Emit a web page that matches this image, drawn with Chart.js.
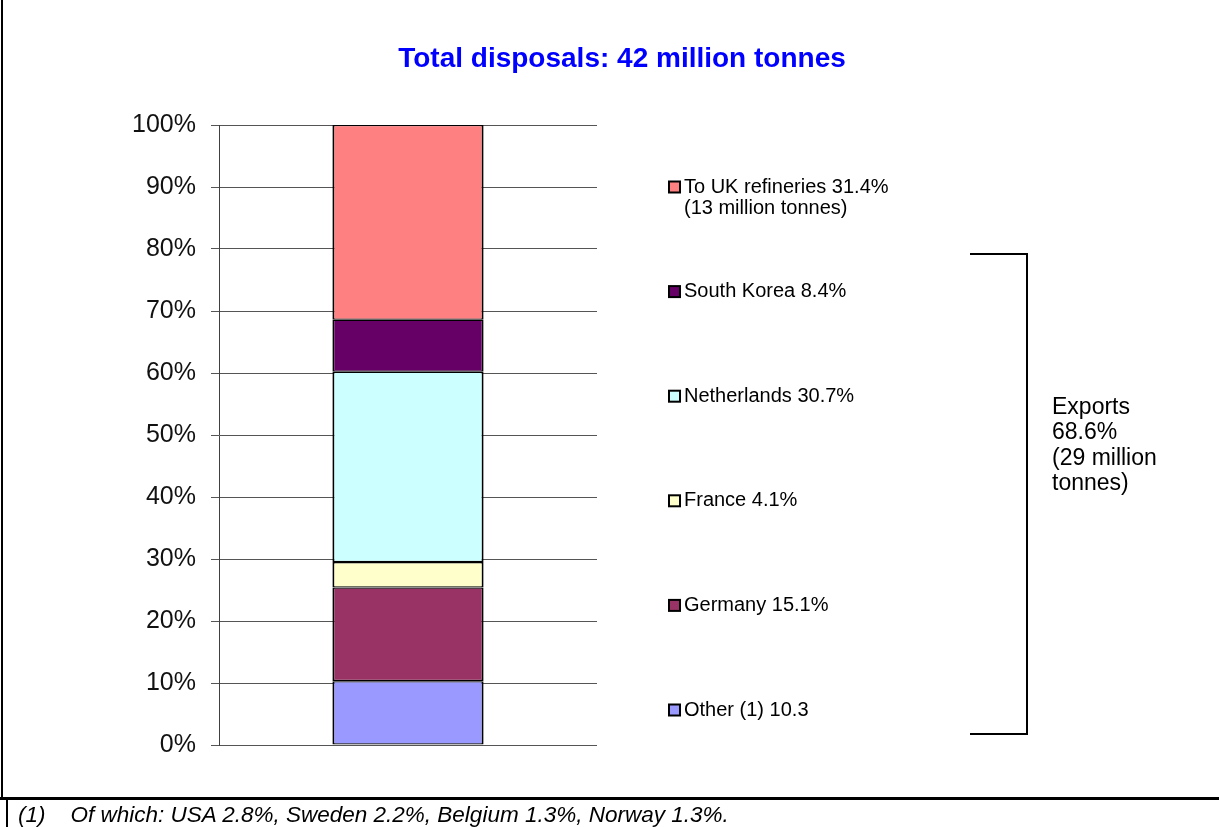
<!DOCTYPE html>
<html>
<head>
<meta charset="utf-8">
<script src="https://cdn.jsdelivr.net/npm/chart.js@4.4.1/dist/chart.umd.min.js"></script>
<style>
  body { margin: 0; background: #fff; }
  #wrap { position: relative; width: 1219px; height: 827px; overflow: hidden; }
  #chart { position: absolute; left: 0; top: 0; }
  .line { position: absolute; background: #000; }
  #nota { position: absolute; left: 18px; top: 802px; font-family: "Liberation Sans", Arial, sans-serif;
          font-style: italic; font-size: 22.5px; color: #000; white-space: pre; }
</style>
</head>
<body>
<div id="wrap">
  <canvas id="chart" width="1219" height="827"></canvas>
  <div class="line" style="left:1px;top:0;width:2px;height:797px"></div>
  <div class="line" style="left:0;top:797px;width:1219px;height:3px"></div>
  <div class="line" style="left:6px;top:800px;width:2px;height:27px"></div>
  <div id="nota">(1)    Of which: USA 2.8%, Sweden 2.2%, Belgium 1.3%, Norway 1.3%.</div>
</div>
<script>
// datos (de abajo hacia arriba en la barra)
const categorias = ['Total'];
const destinos = ['Other (1)', 'Germany', 'France', 'Netherlands', 'South Korea', 'To UK refineries'];
const porcentajes = [10.3, 15.1, 4.1, 30.7, 8.4, 31.4];
const etiquetas = [['Other (1) 10.3'], ['Germany 15.1%'], ['France 4.1%'], ['Netherlands 30.7%'],
                   ['South Korea 8.4%'], ['To UK refineries 31.4%', '(13 million tonnes)']];
const ticksY = [0, 10, 20, 30, 40, 50, 60, 70, 80, 90, 100];
const titulo = 'Total disposals: 42 million tonnes';
const exportsTexto = ['Exports', '68.6%', '(29 million', 'tonnes)'];

const colores = ['#9999FF', '#993366', '#FFFFCC', '#CCFFFF', '#660066', '#FF8080'];

const FUENTE = '"Liberation Sans", Arial, sans-serif';

// leyenda a la derecha + llave de exportaciones
const extras = {
    id: 'extras',
    afterDraw(chart) {
        const ctx = chart.ctx;
        ctx.save();
        ctx.font = '20px ' + FUENTE;
        ctx.textBaseline = 'middle';
        ctx.textAlign = 'left';
        let n = chart.data.datasets.length;
        for (let i = 0; i < n; i++) {
            let ds = chart.data.datasets[n - 1 - i];
            let y = 187 + i * 104.6;
            ctx.fillStyle = ds.backgroundColor;
            ctx.fillRect(669, y - 5.5, 11, 11);
            ctx.strokeStyle = '#000';
            ctx.lineWidth = 2;
            ctx.strokeRect(669, y - 5.5, 11, 11);
            ctx.fillStyle = '#000';
            etiquetas[n - 1 - i].forEach(function (t, k) {
                ctx.fillText(t, 684, y + k * 21);
            });
        }
        // llave
        ctx.strokeStyle = '#000';
        ctx.lineWidth = 2;
        ctx.beginPath();
        ctx.moveTo(970, 254);
        ctx.lineTo(1027, 254);
        ctx.lineTo(1027, 734);
        ctx.lineTo(970, 734);
        ctx.stroke();
        ctx.font = '23px ' + FUENTE;
        ctx.textBaseline = 'alphabetic';
        exportsTexto.forEach(function (t, k) {
            ctx.fillText(t, 1052, 414 + k * 25.3);
        });
        ctx.restore();
    }
};

const datasets = destinos.map(function (d, i) {
    return {
        label: d,
        data: [porcentajes[i]],
        backgroundColor: colores[i],
        borderColor: '#000',
        borderWidth: { left: 2, right: 2, top: 1.3, bottom: 1.3 },
        borderSkipped: false,
        barPercentage: 0.4,
        categoryPercentage: 1
    };
});

new Chart(document.getElementById('chart').getContext('2d'), {
    type: 'bar',
    data: { labels: categorias, datasets: datasets },
    options: {
        responsive: false,
        animation: false,
        layout: { padding: { left: 25, top: 0, right: 0, bottom: 82 } },
        plugins: {
            legend: { display: false },
            tooltip: { enabled: false },
            title: {
                display: true,
                text: titulo,
                color: '#0000FF',
                font: { family: FUENTE, size: 28, weight: 'bold' },
                padding: { top: 42, bottom: 49.4 }
            }
        },
        scales: {
            x: { stacked: true, display: false },
            y: {
                stacked: true,
                min: 0,
                max: 100,
                afterFit: function (s) { s.width = 194; },
                afterBuildTicks: function (s) { s.ticks = ticksY.map(v => ({ value: v })); },
                ticks: {
                    padding: 15,
                    color: '#111',
                    font: { family: FUENTE, size: 25 },
                    callback: v => v + '%'
                },
                grid: { color: '#555', lineWidth: 1, tickLength: 8, tickColor: '#555' },
                border: { color: '#404040', width: 1 }
            },
            // espacio vacio a la derecha (leyenda y llave)
            derecha: {
                type: 'linear',
                position: 'right',
                display: true,
                afterFit: function (s) { s.width = 622; },
                ticks: { display: false },
                grid: { display: false },
                border: { display: false }
            }
        }
    },
    plugins: [extras]
});
</script>
</body>
</html>
